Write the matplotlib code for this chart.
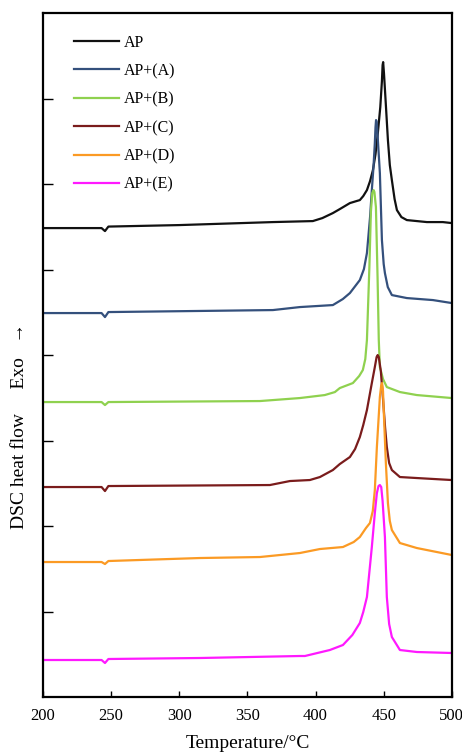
import matplotlib
matplotlib.use("Agg")
import matplotlib.pyplot as plt

plt.rcParams["font.family"] = ["Liberation Serif", "DejaVu Serif"]

LABELS = ["AP", "AP+(A)", "AP+(B)", "AP+(C)", "AP+(D)", "AP+(E)"]
COLORS = ["#111111", "#34507c", "#8fd14f", "#7a1c1c", "#fb9a24", "#ff19ff"]

# DSC traces (temperature in C, heat flow in arbitrary offset units)
t_ap = [200, 243, 245.5, 248, 300, 368.7, 398, 405, 412.7, 417.8, 425.2, 430, 432.5, 435,
        437.7, 440, 442.1, 444, 445.7, 447.5, 448.7, 449.2, 449.6, 450.2, 451.6, 453.1,
        454.5, 456.0, 458, 459.7, 463, 467.0, 481.7, 493.4, 500]
v_ap = [46.9, 46.9, 46.6, 47.05, 47.2, 47.5, 47.6, 47.9, 48.4, 48.8, 49.4, 49.6, 49.7, 50.1,
        50.7, 51.6, 52.7, 54.3, 56.4, 59.0, 61.6, 63.2, 63.5, 62.4, 59.2, 55.7,
        53.2, 51.7, 49.8, 48.7, 48.0, 47.7, 47.5, 47.5, 47.4]

t_a = [200, 243, 245.5, 248, 368.7, 388.5, 412.7, 420, 425.2, 432.5, 435.5, 437.7, 440,
       441.3, 442.5, 443.5, 444.0, 444.4, 444.9, 445.6, 447.2, 448.7, 450, 450.9, 453,
       456.0, 467.0, 486.1, 500]
v_a = [38.4, 38.4, 38.0, 38.5, 38.7, 39.0, 39.2, 39.8, 40.4, 41.7, 42.8, 44.4, 48.0,
       50.7, 53.0, 55.4, 57.0, 57.7, 57.5, 56.0, 52.4, 45.7, 43.3, 42.4, 41.0,
       40.2, 39.9, 39.7, 39.4]

t_b = [200, 243, 245.5, 248, 359.2, 388.5, 406.8, 414.2, 417.8, 427.4, 432, 434.7, 436.5,
       437.7, 439.5, 440.6, 441.6, 442.6, 443.2, 444.3, 445.5, 446.4, 447.2, 449.5,
       452.3, 461.9, 474.3, 500]
v_b = [29.5, 29.5, 29.2, 29.5, 29.6, 29.9, 30.2, 30.5, 30.9, 31.4, 32.1, 32.7, 33.8,
       35.7, 43.0, 48.5, 50.4, 50.7, 50.5, 49.0, 42.0, 35.7, 33.0, 31.8,
       31.0, 30.5, 30.2, 29.9]

t_c = [200, 243, 245.5, 248, 366.5, 381.2, 395.8, 403.2, 412.7, 417.8, 425.2, 429, 432.5,
       435, 437.7, 441.3, 443.5, 444.8, 445.6, 446.4, 447.9, 449.4, 451, 452.3, 454,
       456.0, 461.9, 474.3, 500]
v_c = [21.0, 21.0, 20.6, 21.1, 21.2, 21.6, 21.7, 22.0, 22.7, 23.3, 24.0, 24.8, 26.0,
       27.2, 28.7, 31.4, 33.0, 34.0, 34.2, 34.0, 32.6, 30.0, 27.0, 25.0, 23.4,
       22.7, 22.0, 21.9, 21.7]

t_d = [200, 243, 245.5, 248, 315.2, 359.2, 388.5, 403.2, 420.1, 428, 432.5, 437, 439.9,
       442, 443.5, 445.0, 447.2, 448.2, 448.8, 449.5, 450.1, 451.6, 453.1, 454.5,
       456.0, 461.9, 474.3, 500]
v_d = [13.5, 13.5, 13.3, 13.6, 13.9, 14.0, 14.4, 14.8, 15.0, 15.5, 16.0, 16.9, 17.4,
       18.6, 20.7, 25.0, 30.0, 31.2, 31.4, 30.6, 28.4, 23.4, 19.4, 17.6,
       16.7, 15.4, 14.9, 14.2]

t_e = [200, 243, 245.5, 248, 315.2, 388.5, 392.2, 410.5, 420.1, 427, 432.5, 435, 437.7,
       441.3, 443.5, 445.0, 446.2, 447.2, 448.2, 449.2, 450.9, 452.3, 454, 456.0,
       461.9, 474.3, 500]
v_e = [3.7, 3.7, 3.4, 3.8, 3.9, 4.1, 4.1, 4.7, 5.2, 6.2, 7.4, 8.5, 10.0,
       15.0, 18.4, 20.4, 21.1, 21.2, 21.0, 19.6, 16.0, 10.0, 7.3, 6.0,
       4.7, 4.5, 4.4]

x_ticks = [200, 250, 300, 350, 400, 450, 500]
y_ticks = [8.55, 17.1, 25.65, 34.2, 42.75, 51.3, 59.85]

fig = plt.figure(figsize=(4.62, 7.54), dpi=100)
ax = fig.add_axes([0.093, 0.0756, 0.885, 0.907])

series = [(t_ap, v_ap), (t_a, v_a), (t_b, v_b), (t_c, v_c), (t_d, v_d), (t_e, v_e)]
for (t, v), lab, col in zip(series, LABELS, COLORS):
    ax.plot(t, v, color=col, linewidth=1.6, label=lab, solid_joinstyle="round")

ax.set_xlim(200, 500)
ax.set_ylim(0, 68.4)
ax.set_xticks(x_ticks)
ax.set_yticks(y_ticks)
ax.set_yticklabels([])
ax.tick_params(axis="x", direction="in", length=4, width=1, labelsize=12, pad=8)
ax.tick_params(axis="y", direction="in", length=7, width=1)
for sp in ax.spines.values():
    sp.set_linewidth(1.6)

ax.set_xlabel("Temperature/°C", fontsize=14, labelpad=8)
ax.set_ylabel("DSC heat flow     Exo   →", fontsize=14)
ax.yaxis.set_label_coords(-0.036, 0.396)

ax.legend(loc="upper left", bbox_to_anchor=(0.06, 0.978), frameon=False,
          fontsize=11.5, handlelength=2.8, handletextpad=0.3, labelspacing=0.78,
          borderaxespad=0)

fig.savefig("out.png", dpi=100)
